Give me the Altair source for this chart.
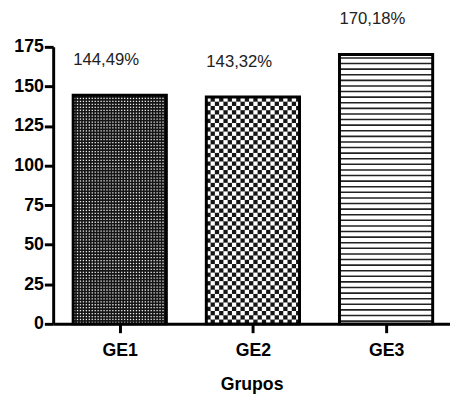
import json
import altair as alt
import pandas as pd

groups = ["GE1", "GE2", "GE3"]
values = [144.49, 143.32, 170.18]
labels = ["144,49%", "143,32%", "170,18%"]

W, H = 404, 282
XMAX, YMAX = 2.98, 175
pxx = W / XMAX
pxy = H / YMAX
HALF = 0.35
FONT = "Liberation Sans"

bars = pd.DataFrame({
    "group": groups,
    "value": values,
    "label": labels,
    "pos": [i + 0.5 for i in range(len(groups))],
})
bars["left"] = bars["pos"] - HALF
bars["right"] = bars["pos"] + HALF
bars["base"] = ["#151515", "#151515", "#ffffff"]

# decorative texture cells (pattern fills), clipped to each bar
rows = []
def add(x0, x1, y0, y1, r, t, col):
    x1 = min(x1, r); y1 = min(y1, t)
    if x1 > x0 and y1 > y0:
        rows.append({"x": x0, "x2": x1, "y": y0, "y2": y1, "c": col})

for i, b in bars.iterrows():
    l, r, t = b["left"], b["right"], b["value"]
    if i == 0:
        step, sz = 3.0, 1.3
        ny = int(t * pxy / step) + 1
        nx = int((r - l) * pxx / step) + 1
        for ry in range(ny):
            for cx in range(nx):
                x0 = l + (cx * step + 0.8) / pxx
                y0 = (ry * step + 0.8) / pxy
                add(x0, x0 + sz / pxx, y0, y0 + sz / pxy, r, t, "#f0f0f0")
    elif i == 1:
        cell = 4.35
        ny = int(t * pxy / cell) + 1
        nx = int((r - l) * pxx / cell) + 1
        for ry in range(ny):
            for cx in range(nx):
                if (ry + cx) % 2 == 0:
                    x0 = l + cx * cell / pxx
                    y0 = ry * cell / pxy
                    add(x0, x0 + cell / pxx, y0, y0 + cell / pxy, r, t, "#ffffff")
    else:
        per, th = 5.7, 1.6
        n = int(t * pxy / per) + 1
        for k in range(n):
            y0 = (k * per + 2.0) / pxy
            add(l, r, y0, y0 + th / pxy, r, t, "#222222")

tex = pd.DataFrame(rows)

xscale = alt.Scale(domain=[0, XMAX], nice=False, zero=False)
yscale = alt.Scale(domain=[0, YMAX], nice=False)

label_expr = "%s[floor(datum.value)]" % json.dumps(groups)

base_bar = alt.Chart(bars).mark_rect(strokeWidth=0).encode(
    x=alt.X("left:Q", scale=xscale, axis=alt.Axis(
        values=list(bars["pos"]), labelExpr=label_expr, title="Grupos",
        grid=False, domainColor="black", domainWidth=3, tickColor="black",
        tickWidth=3, tickSize=9, labelFont=FONT, labelFontSize=18,
        labelFontWeight="bold", labelColor="black", labelPadding=9,
        titleFont=FONT, titleFontSize=18, titleFontWeight="bold",
        titleColor="black", titlePadding=17)),
    x2="right:Q",
    y=alt.Y("base0:Q", scale=yscale, axis=alt.Axis(
        values=list(range(0, 176, 25)), title=None, grid=False,
        domainColor="black", domainWidth=3, tickColor="black", tickWidth=3,
        tickSize=9, labelFont=FONT, labelFontSize=18, labelFontWeight="bold",
        labelColor="black", labelPadding=1)),
    y2="value:Q",
    fill=alt.Fill("base:N", scale=None),
).transform_calculate(base0="0")

texture = alt.Chart(tex).mark_rect(strokeWidth=0).encode(
    x=alt.X("x:Q", scale=xscale), x2="x2:Q",
    y=alt.Y("y:Q", scale=yscale), y2="y2:Q",
    fill=alt.Fill("c:N", scale=None),
)

outline = alt.Chart(bars).mark_rect(fillOpacity=0, stroke="black", strokeWidth=3).encode(
    x=alt.X("left:Q", scale=xscale), x2="right:Q",
    y=alt.Y("base0:Q", scale=yscale), y2="value:Q",
).transform_calculate(base0="0")

text = alt.Chart(bars).mark_text(
    align="left", baseline="middle", dy=-36, font=FONT, fontSize=17, color="#222222"
).encode(
    x=alt.X("left:Q", scale=xscale),
    y=alt.Y("value:Q", scale=yscale),
    text="label:N",
)

chart = alt.layer(base_bar, texture, outline, text).properties(
    width=W, height=H,
    autosize=alt.AutoSizeParams(type="none"),
    padding={"left": 46, "top": 36, "right": 0, "bottom": 76},
    background="white",
).configure_view(stroke=None)

chart.save("out.html", embed_options={"renderer": "svg", "actions": False})
